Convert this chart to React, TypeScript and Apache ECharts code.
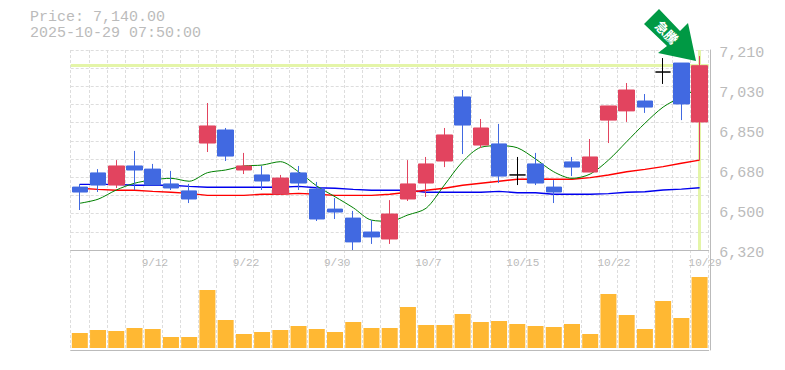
import React, { useEffect, useRef } from "react";
import * as echarts from "echarts";

const priceLine = "Price: 7,140.00";
const timeLine = "2025-10-29 07:50:00";
const badgeText = "急騰";
const lastPrice = 7140;

const dates = ["9/8","9/9","9/10","9/11","9/12","9/16","9/17","9/18","9/19","9/22","9/24","9/25","9/26","9/29","9/30","10/1","10/2","10/3","10/6","10/7","10/8","10/9","10/10","10/14","10/15","10/16","10/17","10/20","10/21","10/22","10/23","10/24","10/27","10/28","10/29"];
const opens = [6600,6663,6609,6694,6680,6614,6583,6796,6854,6676,6654,6569,6663,6591,6502,6462,6400,6369,6547,6618,6716,7001,6787,6792,6654,6703,6600,6712,6667,6898,6939,6983,7112,7152,6890];
const closes = [6578,6609,6694,6676,6609,6596,6547,6872,6738,6694,6627,6640,6618,6458,6489,6356,6378,6480,6614,6703,6832,6876,6863,6649,6654,6618,6578,6689,6734,6961,7032,6956,7112,6970,7140];
const lows = [6498,6578,6596,6587,6609,6587,6529,6756,6716,6658,6587,6565,6587,6449,6458,6320,6347,6347,6538,6556,6689,6747,6774,6618,6609,6609,6529,6649,6667,6796,6890,6930,7059,6898,6720];
const highs = [6614,6680,6720,6761,6703,6672,6614,6974,6863,6752,6694,6654,6694,6623,6551,6494,6453,6542,6720,6734,6863,7032,6903,6881,6734,6752,6631,6734,6814,6961,7063,7014,7174,7152,7183];
const maShort = [6528,6546,6587,6617,6632,6639,6626,6664,6676,6694,6698,6713,6668,6605,6557,6508,6453,6448,6476,6506,6609,6713,6777,6784,6775,6725,6668,6639,6658,6720,6802,6884,6956,7001,7041];
const maMid = [6595,6590,6586,6586,6581,6577,6572,6563,6563,6563,6568,6568,6572,6568,6563,6563,6563,6568,6577,6586,6595,6608,6617,6626,6635,6636,6635,6635,6642,6654,6668,6679,6691,6706,6720];
const maLong = [6612,6612,6612,6608,6608,6608,6603,6599,6599,6599,6599,6599,6603,6597,6595,6590,6586,6586,6586,6577,6577,6577,6577,6581,6575,6575,6568,6568,6568,6571,6577,6579,6587,6591,6597];
const volumes = [1500,1800,1700,2000,1900,1100,1100,5800,2800,1400,1600,1800,2200,1900,1600,2600,2000,2000,4100,2300,2300,3400,2600,2700,2400,2200,2100,2400,1400,5400,3300,1900,4700,3000,7100];
const priceTicks = [7210,7032,6854,6676,6498,6320];

const GRAY = "#bbbbbb";
const GRID = "#dddddd";
const UP = "#e2445f";
const DOWN = "#4169e1";
const MONO = "'Liberation Mono', monospace";

const left = 70.7;
const width = 638;

const gridLine = { show: true, interval: 0, lineStyle: { color: GRID, width: 1, type: [3, 2] as any } };

export default function App() {
  const ref = useRef<HTMLDivElement>(null);
  useEffect(() => {
    document.body.style.margin = "0";
    const chart = echarts.init(ref.current!, null, { renderer: "svg" });
    const candles = dates.map((_, i) => {
      const value = [opens[i], closes[i], lows[i], highs[i]];
      return opens[i] === closes[i]
        ? { value, itemStyle: { color: "#000", color0: "#000", borderColor: "#000", borderColor0: "#000" } }
        : { value };
    });
    chart.setOption({
      animation: false,
      grid: [
        { left, width, top: 50, height: 200 },
        { left, width, top: 250, height: 100 },
        { left: left - 11, width, top: 250, height: 1 },
        { left, width, top: 53, height: 200 },
      ],
      xAxis: [
        { type: "category", gridIndex: 0, data: dates, axisLine: { show: true, onZero: false, lineStyle: { color: GRAY } }, axisTick: { show: false }, axisLabel: { show: false }, splitLine: gridLine },
        { type: "category", gridIndex: 1, data: dates, axisLine: { show: true, onZero: false, lineStyle: { color: GRAY } }, axisTick: { show: false }, axisLabel: { show: false }, splitLine: gridLine },
        { type: "category", gridIndex: 2, data: dates, position: "bottom", axisLine: { show: false }, axisTick: { show: false }, splitLine: { show: false },
          axisLabel: { show: true, align: "left", margin: 6, color: GRAY, fontFamily: MONO, fontSize: 11, hideOverlap: false, interval: (i: number) => i % 5 === 4 } },
        { type: "category", gridIndex: 3, data: dates, show: false },
      ],
      yAxis: [
        { type: "value", gridIndex: 0, position: "right", offset: 1.5, min: 6320, max: 7210,
          axisLine: { show: true, onZero: false, lineStyle: { color: GRAY } }, axisTick: { show: false }, splitLine: { show: false }, axisLabel: { show: false } },
        { type: "value", gridIndex: 0, min: 0, max: 11, interval: 1, axisLine: { show: false }, axisTick: { show: false }, axisLabel: { show: false }, splitLine: { show: true, lineStyle: { color: GRID, width: 1, type: [3, 2] as any } } },
        { type: "value", gridIndex: 1, position: "right", offset: 1.5, min: -200, max: 9800, axisLine: { show: true, onZero: false, lineStyle: { color: GRAY } }, axisTick: { show: false }, axisLabel: { show: false }, splitLine: { show: false } },
        { type: "value", gridIndex: 2, show: false },
        { type: "value", gridIndex: 3, position: "right", offset: 1.5, min: 6320, max: 7210, axisLine: { show: false }, axisTick: { show: false }, splitLine: { show: false },
          axisLabel: { show: true, customValues: priceTicks, margin: 9, color: GRAY, fontFamily: MONO, fontSize: 15, formatter: (v: number) => (Math.round(v / 10) * 10).toLocaleString("en-US") } },
      ],
      series: [
        { type: "line", xAxisIndex: 0, yAxisIndex: 0, data: [], z: 1, silent: true,
          markLine: { z: 1, silent: true, symbol: "none", label: { show: false }, animation: false, lineStyle: { color: "#e4f5a8", width: 3, type: "solid" }, data: [{ yAxis: lastPrice }, { xAxis: dates.length - 1 }] } },
        { type: "line", xAxisIndex: 0, yAxisIndex: 0, data: maLong, z: 2, symbol: "none", lineStyle: { color: "#0000ee", width: 1.4 } },
        { type: "line", xAxisIndex: 0, yAxisIndex: 0, data: maMid, z: 2, symbol: "none", lineStyle: { color: "#ff0000", width: 1.4 } },
        { type: "line", xAxisIndex: 0, yAxisIndex: 0, data: maShort, z: 2, symbol: "none", smooth: 0.3, lineStyle: { color: "#008000", width: 1 } },
        { type: "candlestick", xAxisIndex: 0, yAxisIndex: 0, z: 3, barWidth: 16, data: candles,
          itemStyle: { color: UP, color0: DOWN, borderColor: UP, borderColor0: DOWN, borderWidth: 1 } },
        { type: "bar", xAxisIndex: 1, yAxisIndex: 2, z: 3, barWidth: 16, data: volumes, itemStyle: { color: "#ffb833" } },
      ],
      graphic: [
        { type: "text", x: 30, y: 10, style: { text: priceLine, fill: GRAY, font: `15px ${MONO}` } },
        { type: "text", x: 30, y: 26, style: { text: timeLine, fill: GRAY, font: `15px ${MONO}` } },
        { type: "polygon", z: 10, shape: { points: [[659,9],[644,24],[667,46],[658,53],[696,61],[688,23],[680,31]] }, style: { fill: "#009944" } },
        { type: "text", z: 11, x: 667, y: 32, rotation: -Math.PI / 4, style: { text: badgeText, fill: "#fff", font: "bold 13px 'Noto Sans CJK JP'", align: "center", verticalAlign: "middle" } },
      ],
    });
    return () => chart.dispose();
  }, []);
  return <div ref={ref} style={{ position: "absolute", left: 0, top: 0, width: 785, height: 370 }} />;
}
